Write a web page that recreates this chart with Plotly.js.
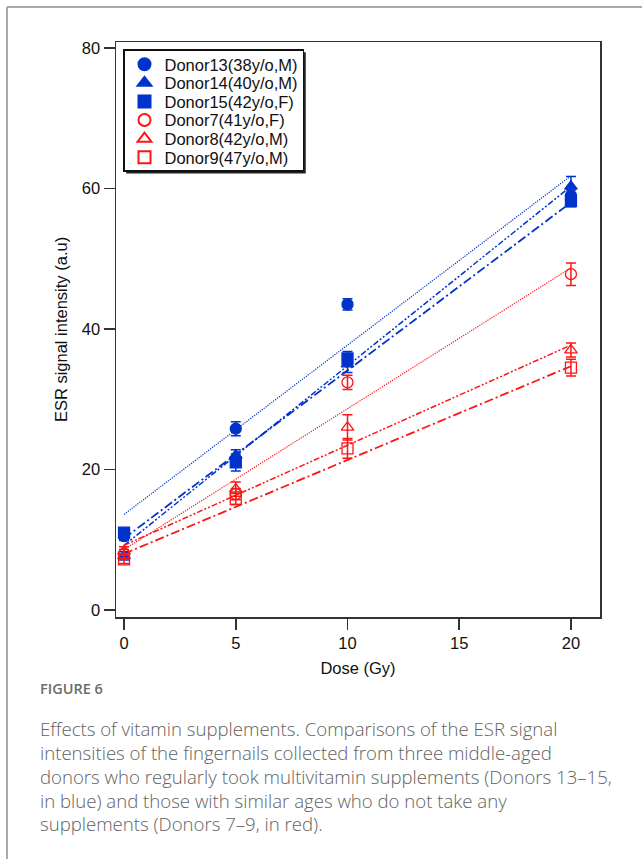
<!DOCTYPE html>
<html><head><meta charset="utf-8">
<script src="https://cdn.plot.ly/plotly-3.0.1.min.js"></script>
<style>html,body{margin:0;padding:0;background:#fff}#chart{width:642px;height:859px}</style>
</head><body><div id="chart"></div>
<script>
// ---- data ----
const doses = [0, 5, 10, 20];
const donorNames = ["Donor13(38y/o,M)", "Donor14(40y/o,M)", "Donor15(42y/o,F)",
                    "Donor7(41y/o,F)", "Donor8(42y/o,M)", "Donor9(47y/o,M)"];
const donor13 = [10.5, 25.8, 43.5, 59.0];
const donor14 = [7.7, 22.0, 35.0, 60.3];
const donor15 = [11.0, 21.0, 35.8, 58.2];
const donor7  = [8.0, 16.5, 32.4, 47.8];
const donor8  = [8.4, 17.2, 26.0, 37.0];
const donor9  = [7.2, 15.8, 23.0, 34.5];
const err13 = [0.6, 1.0, 0.8, 0.8];
const err14 = [0.6, 0.8, 1.2, 1.4];
const err15 = [0.6, 1.2, 1.0, 0.8];
const err7  = [0.6, 0.8, 1.0, 1.6];
const err8  = [0.6, 1.0, 1.8, 1.0];
const err9  = [0.6, 0.8, 1.4, 1.2];
// fitted lines: value at dose 0 and dose 20
const fitDoses = [0, 20];
const fit13 = [13.6, 61.8];
const fit14 = [9.2, 60.3];
const fit15 = [10.2, 58.0];
const fit7  = [8.6, 48.7];
const fit8  = [9.2, 37.7];
const fit9  = [8.0, 34.7];
const xTicks = [0, 5, 10, 15, 20];
const yTicks = [0, 20, 40, 60, 80];
const captionHead = "FIGURE 6";
const captionLines = [
  "Effects of vitamin supplements. Comparisons of the ESR signal",
  "intensities of the fingernails collected from three middle-aged",
  "donors who regularly took multivitamin supplements (Donors 13\u201315,",
  "in blue) and those with similar ages who do not take any",
  "supplements (Donors 7\u20139, in red)."
];

// ---- styling ----
const BLUE = "rgb(0,51,204)";
const RED = "rgb(255,20,20)";
const series = [
  {y: donor13, e: err13, fit: fit13, c: BLUE, sym: "circle", dash: "1.2px,1.2px", w: 1.2},
  {y: donor14, e: err14, fit: fit14, c: BLUE, sym: "triangle-up", dash: "6px,2px,2px,2px,2px,2px", w: 1.5},
  {y: donor15, e: err15, fit: fit15, c: BLUE, sym: "square", dash: "9px,3px,2px,3px", w: 1.8},
  {y: donor7,  e: err7,  fit: fit7,  c: RED,  sym: "circle-open", dash: "1.2px,1.2px", w: 1.2},
  {y: donor8,  e: err8,  fit: fit8,  c: RED,  sym: "triangle-up-open", dash: "6px,2px,2px,2px,2px,2px", w: 1.5},
  {y: donor9,  e: err9,  fit: fit9,  c: RED,  sym: "square-open", dash: "9px,3px,2px,3px", w: 1.8}
];

const traces = [];
series.forEach((s, i) => {
  traces.push({
    x: fitDoses, y: s.fit, mode: "lines", showlegend: false, hoverinfo: "skip",
    line: {color: s.c, width: s.w, dash: s.dash}
  });
});
series.forEach((s, i) => {
  traces.push({
    x: doses, y: s.y, name: donorNames[i], mode: "markers",
    marker: {symbol: s.sym, size: 11, color: s.c, line: {color: s.c, width: 1.3}},
    error_y: {type: "data", array: s.e, visible: true, color: s.c, thickness: 1.5, width: 5}
  });
});

const px2x = p => (p - 116) / 484;
const py2y = p => (617 - p) / 575;

const annotations = [{
  xref: "paper", yref: "paper", x: px2x(38), y: py2y(688), xanchor: "left", yanchor: "middle",
  text: captionHead, showarrow: false,
  font: {family: "Open Sans, sans-serif", size: 14.5, color: "#6b6b6b", weight: 600}
}];
captionLines.forEach((t, i) => {
  annotations.push({
    xref: "paper", yref: "paper", x: px2x(38), y: py2y(728 + 24 * i), xanchor: "left", yanchor: "middle",
    text: t, showarrow: false,
    font: {family: "Open Sans, sans-serif", size: 18.6, color: "#626262", weight: 300}
  });
});

const layout = {
  width: 642, height: 859,
  margin: {l: 116, r: 42, t: 42, b: 242},
  paper_bgcolor: "#fff", plot_bgcolor: "#fff",
  font: {family: "Liberation Sans, Arial, sans-serif", size: 16.5, color: "#111"},
  xaxis: {
    range: [-0.36, 21.3], tickvals: xTicks, ticktext: xTicks.map(String),
    showgrid: false, zeroline: false, showline: true, mirror: true,
    linecolor: "#333", linewidth: 1.5, ticks: "outside", ticklen: 11, tickwidth: 1.5, tickcolor: "#333",
    title: {text: "Dose (Gy)", standoff: 11, font: {size: 16.5}}
  },
  yaxis: {
    range: [-1.0, 80.85], tickvals: yTicks, ticktext: yTicks.map(String),
    showgrid: false, zeroline: false, showline: true, mirror: true,
    linecolor: "#333", linewidth: 1.5, ticks: "outside", ticklen: 11, tickwidth: 1.5, tickcolor: "#333",
    title: {text: "ESR signal intensity (a.u)", standoff: 10, font: {size: 16.5}}
  },
  legend: {
    x: px2x(123), y: py2y(49), xanchor: "left", yanchor: "top",
    bgcolor: "#fff", bordercolor: "#111", borderwidth: 1.5,
    font: {size: 16.5, color: "#111"}, itemsizing: "constant"
  },
  shapes: [
    {type: "line", xref: "paper", yref: "paper", x0: px2x(7), x1: px2x(645), y0: py2y(7), y1: py2y(7), line: {color: "#aaa", width: 2}},
    {type: "line", xref: "paper", yref: "paper", x0: px2x(7), x1: px2x(7), y0: py2y(7), y1: py2y(862), line: {color: "#aaa", width: 2}}
  ],
  annotations: annotations,
  showlegend: true
};

Plotly.newPlot("chart", traces, layout, {displayModeBar: false, staticPlot: true}).then(gd => {
  // tighten legend row spacing to match the reference (~18.6px per row)
  const items = gd.querySelectorAll(".legend .traces");
  if (!items.length) return;
  const parse = el => {
    const m = /translate\(\s*([-\d.]+)[ ,]+([-\d.]+)/.exec(el.getAttribute("transform") || "");
    return m ? [parseFloat(m[1]), parseFloat(m[2])] : [0, 0];
  };
  const first = parse(items[0]);
  const last = parse(items[items.length - 1]);
  const oldStep = items.length > 1 ? (last[1] - first[1]) / (items.length - 1) : 0;
  const step = 18.6;
  const top0 = first[1] - 3.5;
  items.forEach((el, i) => {
    const p = parse(el);
    el.setAttribute("transform", `translate(${p[0]},${top0 + i * step})`);
  });
  const bg = gd.querySelector(".legend rect.bg");
  if (bg) {
    const h = parseFloat(bg.getAttribute("height"));
    bg.setAttribute("height", h - (oldStep - step) * (items.length - 1) - 8);
  }
  // drop shadow under the legend box
  const leg = gd.querySelector(".legend");
  if (leg && bg) {
    const ns = "http://www.w3.org/2000/svg";
    const sh = document.createElementNS(ns, "rect");
    sh.setAttribute("x", parseFloat(bg.getAttribute("x") || 0) + 2.5);
    sh.setAttribute("y", parseFloat(bg.getAttribute("y") || 0) + 2.5);
    sh.setAttribute("width", bg.getAttribute("width"));
    sh.setAttribute("height", bg.getAttribute("height"));
    sh.setAttribute("fill", "#222");
    leg.insertBefore(sh, leg.firstChild);
  }
});
</script></body></html>
